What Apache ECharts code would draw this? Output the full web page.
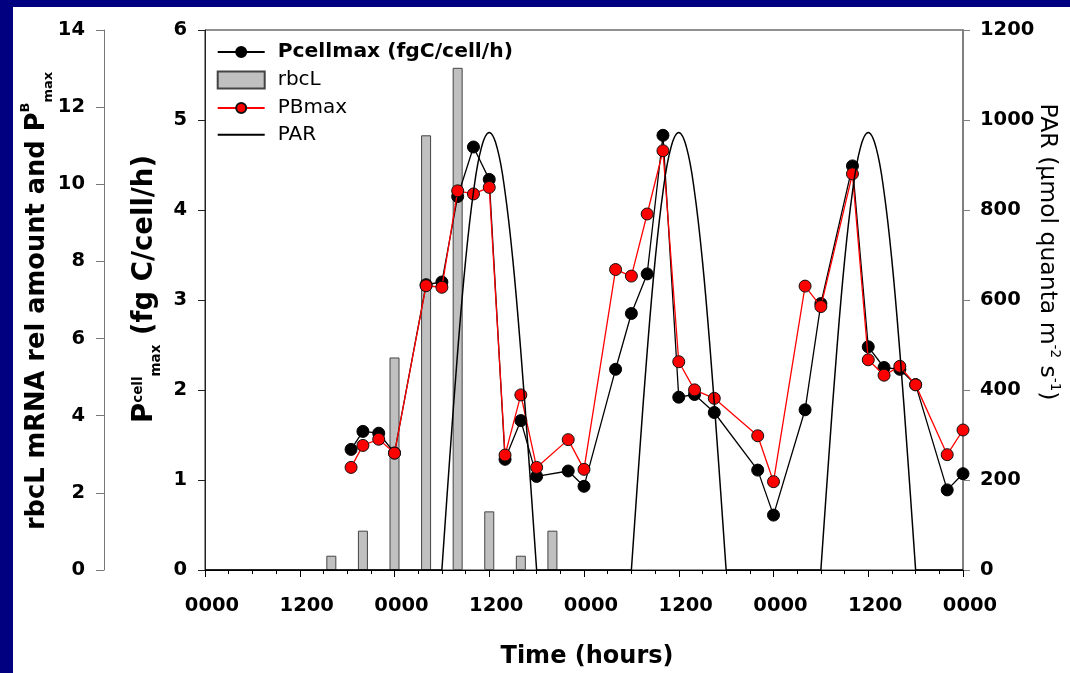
<!DOCTYPE html>
<html>
<head>
<meta charset="utf-8">
<script src="https://cdn.jsdelivr.net/npm/echarts@6/dist/echarts.min.js"></script>
<style>
html,body{margin:0;padding:0;background:#fff;}
#c{width:1070px;height:673px;}
</style>
</head>
<body>
<div id="c"></div>
<script>
// ---- data ----
const xTickLabels = ['0000', '1200'];

const rbcLHours  = [16, 20, 24, 28, 32, 36, 40, 44];
const rbcLValues = [0.37, 1.02, 5.51, 11.27, 13.02, 1.52, 0.37, 1.02];

const pHours = [18.5, 20, 22, 24, 28, 30, 32, 34, 36, 38, 40, 42, 46, 48,
                52, 54, 56, 58, 60, 62, 64.5, 70, 72, 76, 78, 82, 84, 86, 88, 90, 94, 96];
const pcellMax = [1.34, 1.54, 1.52, 1.30, 3.17, 3.20, 4.15, 4.70, 4.34, 1.23, 1.66, 1.04, 1.10, 0.93,
                  2.23, 2.85, 3.29, 4.83, 1.92, 1.95, 1.75, 1.11, 0.61, 1.78, 2.96, 4.49, 2.48, 2.25, 2.23, 2.06, 0.89, 1.07];
const pbMax = [2.66, 3.23, 3.39, 3.03, 7.37, 7.33, 9.83, 9.75, 9.92, 2.98, 4.54, 2.66, 3.38, 2.61,
               7.79, 7.62, 9.23, 10.87, 5.40, 4.67, 4.45, 3.48, 2.29, 7.36, 6.83, 10.27, 5.45, 5.05, 5.28, 4.80, 2.99, 3.63];

// PAR (null = break between night baseline and daylight arcs)
const parHours = [0, 30, null,
  30, 31, 32, 33, 34, 35, 36, 37, 38, 39, 40, 41, 42, null,
  42, 54, null,
  54, 55, 56, 57, 58, 59, 60, 61, 62, 63, 64, 65, 66, null,
  66, 78, null,
  78, 79, 80, 81, 82, 83, 84, 85, 86, 87, 88, 89, 90, null,
  90, 96];
const parValues = [0, 0, null,
  0, 250, 485, 687, 840, 938, 972, 938, 840, 687, 485, 250, 0, null,
  0, 0, null,
  0, 250, 485, 687, 840, 938, 972, 938, 840, 687, 485, 250, 0, null,
  0, 0, null,
  0, 250, 485, 687, 840, 938, 972, 938, 840, 687, 485, 250, 0, null,
  0, 0];

// ---- chart ----
const FF = 'DejaVu Sans';
const chart = echarts.init(document.getElementById('c'), null, {renderer: 'canvas'});

const labelBase = {fontFamily: FF, fontWeight: 'bold', fontSize: 19.5, color: '#000', formatter: v => String(v)};
const legendCommon = {
  orient: 'vertical', left: 216.7, itemWidth: 47, padding: 0, selectedMode: false,
  textStyle: {fontFamily: FF, fontSize: 20, color: '#000', lineHeight: 20, padding: [0, 0, 0, 8]}
};

const option = {
  animation: false,
  backgroundColor: '#ffffff',
  textStyle: {fontFamily: FF},
  grid: {left: 205, right: 107, top: 30, bottom: 103, show: true, borderColor: '#222', borderWidth: 1,
         backgroundColor: 'transparent', containLabel: false, outerBoundsMode: 'none'},
  legend: [
    Object.assign({}, legendCommon, {top: 42, itemHeight: 12.5,
      data: [{name: 'Pcellmax (fgC/cell/h)', textStyle: {fontWeight: 'bold', fontSize: 20.3}}]}),
    Object.assign({}, legendCommon, {top: 70, itemHeight: 17,
      data: [{name: 'rbcL', icon: 'rect'}]}),
    Object.assign({}, legendCommon, {top: 98, itemHeight: 12.5, itemGap: 6.7,
      data: [{name: 'PBmax'}, {name: 'PAR', itemStyle: {opacity: 0}}]})
  ],
  xAxis: {
    type: 'value', min: 0, max: 96, interval: 12, position: 'bottom',
    axisLine: {show: true, onZero: false, lineStyle: {color: '#000', width: 1}},
    axisTick: {show: true, length: 7, lineStyle: {color: '#000'}},
    minorTick: {show: true, splitNumber: 4, length: 4, lineStyle: {color: '#000'}},
    splitLine: {show: false},
    axisLabel: Object.assign({}, labelBase, {
      margin: 26, padding: [0, 0, 0, 14], showMinLabel: true, showMaxLabel: true,
      formatter: v => xTickLabels[Math.round(v / 12) % 2]
    })
  },
  yAxis: [
    {
      type: 'value', min: 0, max: 6, interval: 1, position: 'left',
      axisLine: {show: true, lineStyle: {color: '#222'}},
      axisTick: {show: true, length: 7, lineStyle: {color: '#222'}},
      splitLine: {show: false},
      axisLabel: Object.assign({}, labelBase, {margin: 18})
    },
    {
      type: 'value', min: 0, max: 14, interval: 2, position: 'left', offset: 101,
      axisLine: {show: true, lineStyle: {color: '#777'}},
      axisTick: {show: true, length: 8, lineStyle: {color: '#777'}},
      splitLine: {show: false},
      axisLabel: Object.assign({}, labelBase, {margin: 19})
    },
    {
      type: 'value', min: 0, max: 1200, interval: 200, position: 'right',
      axisLine: {show: true, lineStyle: {color: '#808080', width: 2}},
      axisTick: {show: true, length: 7, lineStyle: {color: '#808080'}},
      splitLine: {show: false},
      axisLabel: Object.assign({}, labelBase, {margin: 17})
    }
  ],
  series: [
    {
      name: 'rbcL', type: 'bar', yAxisIndex: 1, barWidth: 10, z: 1,
      data: rbcLHours.map((h, i) => [h, rbcLValues[i]]),
      itemStyle: {color: '#c0c0c0', borderColor: '#444', borderWidth: 1}
    },
    {
      name: 'Pcellmax (fgC/cell/h)', type: 'line', yAxisIndex: 0, z: 3,
      symbol: 'circle', symbolSize: 12,
      data: pHours.map((h, i) => [h, pcellMax[i]]),
      lineStyle: {color: '#000', width: 1.3},
      itemStyle: {color: '#000', borderColor: '#000', borderWidth: 1}
    },
    {
      name: 'PBmax', type: 'line', yAxisIndex: 1, z: 4,
      symbol: 'circle', symbolSize: 12,
      data: pHours.map((h, i) => [h, pbMax[i]]),
      lineStyle: {color: '#ff0000', width: 1.3},
      itemStyle: {color: '#ff0000', borderColor: '#111', borderWidth: 1}
    },
    {
      name: 'PAR', type: 'line', yAxisIndex: 2, z: 5,
      symbol: 'none', smooth: 0.4, connectNulls: false,
      data: parHours.map((h, i) => (h === null ? [null, null] : [h, parValues[i]])),
      lineStyle: {color: '#000', width: 1.5},
      itemStyle: {color: '#000'}
    }
  ],
  graphic: [
    {type: 'rect', silent: true, shape: {x: 0, y: 0, width: 1070, height: 7}, style: {fill: '#000080'}},
    {type: 'rect', silent: true, shape: {x: 0, y: 0, width: 13, height: 673}, style: {fill: '#000080'}},
    {
      type: 'text', x: 37.6, y: 301, rotation: Math.PI / 2, silent: true,
      style: {
        text: '{m|rbcL mRNA rel amount and P}{sup|B}{sub|max}',
        align: 'center', verticalAlign: 'middle', textAlign: 'center', textVerticalAlign: 'middle',
        rich: {
          m: {fontFamily: FF, fontWeight: 'bold', fontSize: 25.7, lineHeight: 36, fill: '#000'},
          sup: {fontFamily: FF, fontWeight: 'bold', fontSize: 13, lineHeight: 13, verticalAlign: 'top', fill: '#000'},
          sub: {fontFamily: FF, fontWeight: 'bold', fontSize: 13, lineHeight: 13, verticalAlign: 'bottom', fill: '#000'}
        }
      }
    },
    {
      type: 'text', x: 145.3, y: 289, rotation: Math.PI / 2, silent: true,
      style: {
        text: '{m|P}{sup|cell}{sub|max}{m| (fg C/cell/h)}',
        align: 'center', verticalAlign: 'middle', textAlign: 'center', textVerticalAlign: 'middle',
        rich: {
          m: {fontFamily: FF, fontWeight: 'bold', fontSize: 27.5, lineHeight: 36, fill: '#000'},
          sup: {fontFamily: FF, fontWeight: 'bold', fontSize: 13.5, lineHeight: 13, verticalAlign: 'top', padding: [4, 0, 0, 0], fill: '#000'},
          sub: {fontFamily: FF, fontWeight: 'bold', fontSize: 13.5, lineHeight: 13, verticalAlign: 'bottom', fill: '#000'}
        }
      }
    },
    {
      type: 'text', x: 1047, y: 252, rotation: -Math.PI / 2, silent: true,
      style: {
        text: '{m|PAR (µmol quanta m}{sup|-2}{m| s}{sup|-1}{m|)}',
        align: 'center', verticalAlign: 'middle', textAlign: 'center', textVerticalAlign: 'middle',
        rich: {
          m: {fontFamily: FF, fontSize: 23.5, lineHeight: 32, fill: '#000'},
          sup: {fontFamily: FF, fontSize: 13.5, lineHeight: 13, verticalAlign: 'top', padding: [2, 0, 0, 0], fill: '#000'}
        }
      }
    },
    {
      type: 'text', x: 587, y: 657, silent: true,
      style: {
        text: 'Time (hours)', fontFamily: FF, fontWeight: 'bold', fontSize: 24, fill: '#000',
        align: 'center', verticalAlign: 'middle', textAlign: 'center', textVerticalAlign: 'middle'
      }
    }
  ]
};
chart.setOption(option);
</script>
</body>
</html>
